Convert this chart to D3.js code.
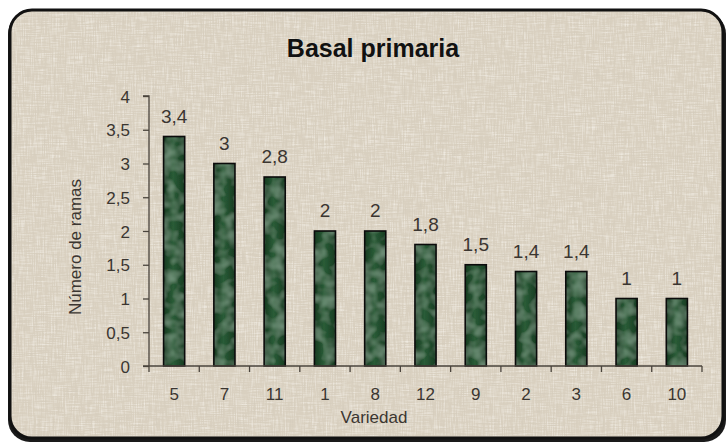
<!DOCTYPE html>
<html>
<head>
<meta charset="utf-8">
<script src="https://cdn.jsdelivr.net/npm/d3@7"></script>
<style>
  body { margin: 0; background: #fff; }
  svg text { font-family: "Liberation Sans", Arial, sans-serif; fill: #3b3631; }
</style>
</head>
<body>
<div id="chart"></div>
<script>
var categories = ["5", "7", "11", "1", "8", "12", "9", "2", "3", "6", "10"];
var values = [3.4, 3, 2.8, 2, 2, 1.8, 1.5, 1.4, 1.4, 1, 1];
var yTicks = [0, 0.5, 1, 1.5, 2, 2.5, 3, 3.5, 4];

var W = 728, H = 445,
    margin = {top: 96, right: 26, bottom: 79, left: 149},
    width = W - margin.left - margin.right,
    height = H - margin.top - margin.bottom;

var fmt = function (d) { return String(d).replace(".", ","); };

var svg = d3.select("#chart").append("svg")
    .attr("width", W)
    .attr("height", H);

var defs = svg.append("defs");

// linen-like texture for the panel
var linen = defs.append("filter").attr("id", "linen").attr("x", 0).attr("y", 0).attr("width", 1).attr("height", 1);
linen.append("feTurbulence").attr("type", "fractalNoise").attr("baseFrequency", "0.9 0.06").attr("numOctaves", 2).attr("seed", 3).attr("result", "n1");
linen.append("feTurbulence").attr("type", "fractalNoise").attr("baseFrequency", "0.06 0.9").attr("numOctaves", 2).attr("seed", 7).attr("result", "n2");
linen.append("feComposite").attr("in", "n1").attr("in2", "n2").attr("operator", "arithmetic").attr("k2", 0.5).attr("k3", 0.5).attr("result", "n");
linen.append("feColorMatrix").attr("in", "n").attr("type", "matrix")
    .attr("values", "0 0 0 0 0.97  0 0 0 0 0.95  0 0 0 0 0.90  1.6 0 0 0 -0.72").attr("result", "light");
linen.append("feColorMatrix").attr("in", "n").attr("type", "matrix")
    .attr("values", "0 0 0 0 0.55  0 0 0 0 0.52  0 0 0 0 0.47  -1.6 0 0 0 0.62").attr("result", "dark");
linen.append("feMerge").call(function (m) {
    m.append("feMergeNode").attr("in", "SourceGraphic");
    m.append("feMergeNode").attr("in", "light");
    m.append("feMergeNode").attr("in", "dark");
}).attr("result", "all");
linen.append("feComposite").attr("in", "all").attr("in2", "SourceGraphic").attr("operator", "in");

// mottled green for bars
var grad = defs.append("linearGradient").attr("id", "barGrad").attr("x1", 0).attr("x2", 1);
grad.append("stop").attr("offset", "0%").attr("stop-color", "#163a20");
grad.append("stop").attr("offset", "45%").attr("stop-color", "#2a5c37");
grad.append("stop").attr("offset", "100%").attr("stop-color", "#173c22");

var mottle = defs.append("filter").attr("id", "mottle");
mottle.append("feTurbulence").attr("type", "fractalNoise").attr("baseFrequency", 0.08).attr("numOctaves", 2).attr("seed", 11).attr("result", "noise");
mottle.append("feColorMatrix").attr("in", "noise").attr("type", "matrix")
    .attr("values", "0 0 0 0 0.33  0 0 0 0 0.52  0 0 0 0 0.38  0 0 0 -0.9 0.55").attr("result", "spots");
mottle.append("feComposite").attr("in", "spots").attr("in2", "SourceGraphic").attr("operator", "atop");

// panel with shadow + rounded border
svg.append("rect")
    .attr("x", 8).attr("y", 12)
    .attr("width", 718).attr("height", 430)
    .attr("rx", 22)
    .attr("fill", "#1a1a1a");
svg.append("rect")
    .attr("x", 10).attr("y", 10)
    .attr("width", 713).attr("height", 428)
    .attr("rx", 22)
    .attr("fill", "#d9d0c0")
    .attr("stroke", "#111")
    .attr("stroke-width", 3);
svg.append("rect")
    .attr("x", 12).attr("y", 12)
    .attr("width", 709).attr("height", 424)
    .attr("rx", 20)
    .attr("fill", "#d9d0c0")
    .attr("filter", "url(#linen)");

svg.append("text")
    .attr("x", 373).attr("y", 57)
    .attr("text-anchor", "middle")
    .style("font-weight", "bold")
    .style("font-size", "25px")
    .style("fill", "#111")
    .text("Basal primaria");

var g = svg.append("g")
    .attr("transform", "translate(" + margin.left + "," + margin.top + ")");

var x = d3.scaleBand().domain(categories).range([0, width]).paddingInner(0.58).paddingOuter(0.29);
var y = d3.scaleLinear().domain([0, 4]).range([height, 0]);

// bars
g.selectAll(".bar")
    .data(values)
    .enter().append("rect")
    .attr("class", "bar")
    .attr("x", function (d, i) { return x(categories[i]); })
    .attr("y", function (d) { return y(d); })
    .attr("width", x.bandwidth())
    .attr("height", function (d) { return height - y(d); })
    .attr("fill", "url(#barGrad)")
    .attr("filter", "url(#mottle)");
g.selectAll(".barline")
    .data(values)
    .enter().append("rect")
    .attr("class", "barline")
    .attr("x", function (d, i) { return x(categories[i]); })
    .attr("y", function (d) { return y(d); })
    .attr("width", x.bandwidth())
    .attr("height", function (d) { return height - y(d); })
    .attr("fill", "none")
    .attr("stroke", "#0b0b0b")
    .attr("stroke-width", 1.6);

// value labels
g.selectAll(".lbl")
    .data(values)
    .enter().append("text")
    .attr("class", "lbl")
    .attr("x", function (d, i) { return x(categories[i]) + x.bandwidth() / 2; })
    .attr("y", function (d) { return y(d) - 14; })
    .attr("text-anchor", "middle")
    .style("font-size", "19px")
    .text(fmt);

// y axis
var yAxis = d3.axisLeft(y).tickValues(yTicks).tickSize(6).tickPadding(13).tickFormat(fmt);
var ya = g.append("g").call(yAxis);
ya.select(".domain").attr("stroke", "#4a443d").attr("stroke-width", 1.3).attr("d", "M-6,0H0V" + height);
ya.selectAll(".tick line").attr("stroke", "#4a443d").attr("stroke-width", 1.3);
ya.selectAll(".tick text").style("font-size", "17px").attr("dy", "0.36em");

// x axis
var xAxis = d3.axisBottom(x).tickSize(0);
var xa = g.append("g").attr("transform", "translate(0," + height + ")").call(xAxis);
xa.select(".domain").attr("stroke", "#4a443d").attr("stroke-width", 1.3).attr("d", "M-6,0H" + width);
xa.selectAll(".tick text").style("font-size", "17px").attr("y", 34).attr("dy", null);
xa.selectAll(".sep")
    .data(d3.range(categories.length + 1))
    .enter().append("line")
    .attr("class", "sep")
    .attr("x1", function (i) { return i * x.step(); })
    .attr("x2", function (i) { return i * x.step(); })
    .attr("y1", 0).attr("y2", 6)
    .attr("stroke", "#4a443d").attr("stroke-width", 1.3);

// axis titles
svg.append("text")
    .attr("transform", "translate(81,247) rotate(-90)")
    .attr("text-anchor", "middle")
    .style("font-size", "17px")
    .text("Número de ramas");
svg.append("text")
    .attr("x", 374).attr("y", 423)
    .attr("text-anchor", "middle")
    .style("font-size", "17px")
    .text("Variedad");
</script>
</body>
</html>
